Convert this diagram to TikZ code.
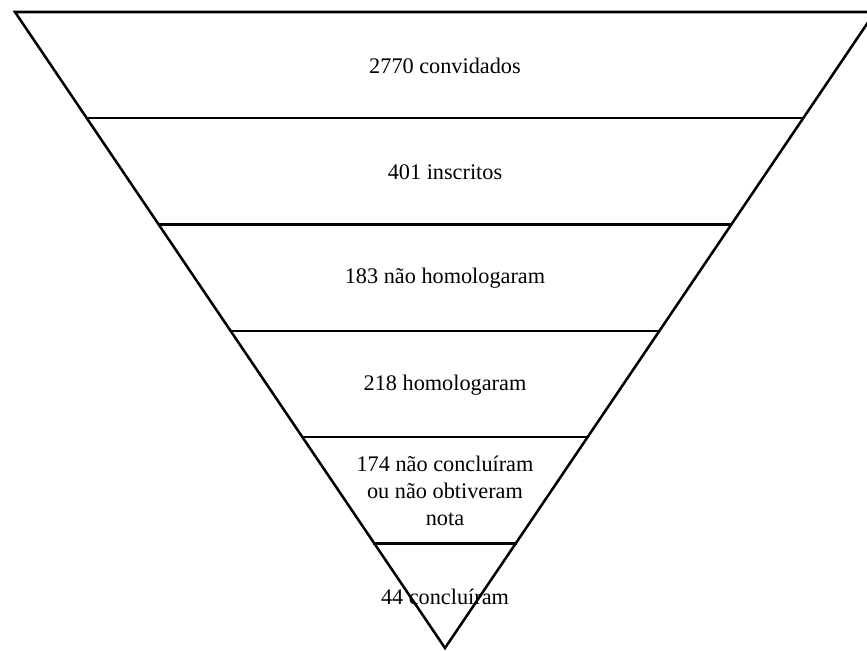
\documentclass[tikz,border=0pt]{standalone}
\usepackage{fontspec}
\setmainfont{LiberationSerif}[Extension=.ttf, UprightFont=*-Regular]
\usepackage{tikz}

\tikzset{
	funnel/.style={line width=1.9pt, line join=miter},
	level/.style={line width=1.9pt},
	stagetext/.style={font=\rmfamily\fontsize{16.7}{20}\selectfont, align=center, inner sep=0pt}
}

\begin{document}
\begin{tikzpicture}[x=0.75pt,y=-0.75pt]
				\useasboundingbox (0,0) rectangle (867,650);
				\clip (0,0) rectangle (867,650);
				
				\coordinate (TL) at (15,12);
				\coordinate (TR) at (875,12);
				\coordinate (V) at (445,648);
				
				\coordinate (L1) at (86.7,118);
				\coordinate (R1) at (803.3,118);
				\coordinate (L2) at (158.3,224.5);
				\coordinate (R2) at (731.7,224.5);
				\coordinate (L3) at (230,331);
				\coordinate (R3) at (660,331);
				\coordinate (L4) at (301.7,437);
				\coordinate (R4) at (588.3,437);
				\coordinate (L5) at (373.3,543.5);
				\coordinate (R5) at (516.7,543.5);
				
				\draw[funnel] (TL) -- (TR) -- (V) -- cycle;
				
				\draw[level] (L1) -- (R1);
				\draw[level] (L2) -- (R2);
				\draw[level] (L3) -- (R3);
				\draw[level] (L4) -- (R4);
				\draw[level] (L5) -- (R5);
				
				\node[stagetext] (convidados) at (445,66) {2770 convidados};
				\node[stagetext] (inscritos) at (445,172) {401 inscritos};
				\node[stagetext] (naohomolog) at (445,278) {183 não homologaram};
				\node[stagetext] (homolog) at (445,385) {218 homologaram};
				\node[stagetext] (naoconcl) at (445,491) {174 não concluíram\\ou não obtiveram\\nota};
				\node[stagetext] (concl) at (445,597) {44 concluíram};
			\end{tikzpicture}
\end{document}
